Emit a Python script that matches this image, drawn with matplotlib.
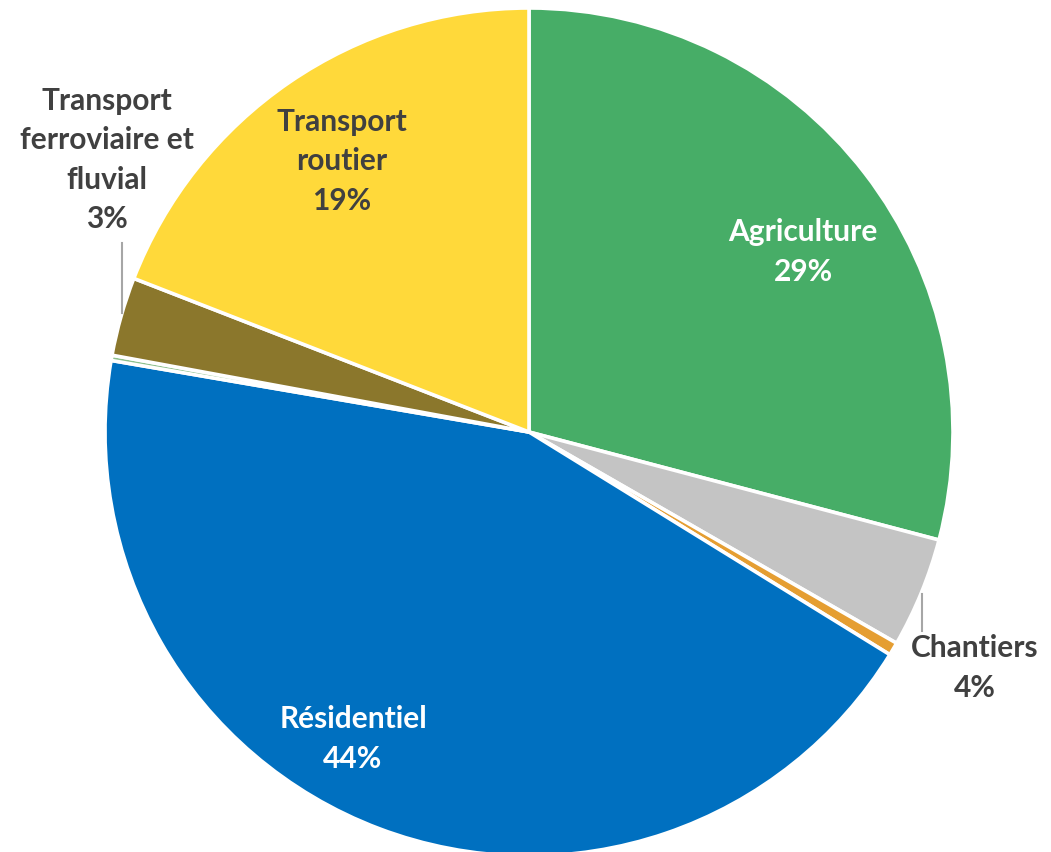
import matplotlib
matplotlib.use("Agg")
import matplotlib.pyplot as plt

# Sector shares (%), clockwise from 12 o'clock
categories = ["Agriculture", "Chantiers", "Industrie", "Résidentiel", "Autres",
              "Transport ferroviaire et fluvial", "Transport routier"]
shares = [29.1, 4.2, 0.5, 43.9, 0.2, 3.0, 19.1]
colors = ["#47AD67", "#C4C4C4", "#E59E32", "#0070C0", "#8CC08C", "#8B772C", "#FFD93A"]

W, H = 1051, 852
fig = plt.figure(figsize=(W / 100, H / 100), dpi=100)
ax = fig.add_axes([0, 0, 1, 1])

cx, cy, r = 529, H - 432, 424
ax.pie(shares, colors=colors, startangle=90, counterclock=False,
       center=(cx, cy), radius=r, frame=True,
       wedgeprops=dict(edgecolor="white", linewidth=2.6))
ax.set_xlim(0, W)
ax.set_ylim(0, H)
ax.set_aspect("equal")
ax.axis("off")

font = dict(family=["Lato", "DejaVu Sans"], fontweight="bold", fontsize=21.5,
            ha="center", va="center", linespacing=1.5)
dark = "#404040"

def pct(v):
    return f"{v:.0f}%"

ax.text(803, H - 252, f"{categories[0]}\n{pct(shares[0])}", color="white", **font)
ax.text(353, H - 739, f"{categories[3]}\n{pct(shares[3])}", color="white", **font)
ax.text(342, H - 161, f"Transport\nroutier\n{pct(shares[6])}", color=dark, **font)
ax.text(975, H - 668, f"{categories[1]}\n{pct(shares[1])}", color=dark, **font)
ax.text(107, H - 160, f"Transport\nferroviaire et\nfluvial\n{pct(shares[5])}", color=dark, **font)

# Leader lines for the outside labels
ax.plot([922, 922], [H - 594, H - 631], color="#A6A6A6", lw=1.5)
ax.plot([122, 122], [H - 243, H - 313], color="#A6A6A6", lw=1.5)

fig.savefig("out.png", dpi=100)
